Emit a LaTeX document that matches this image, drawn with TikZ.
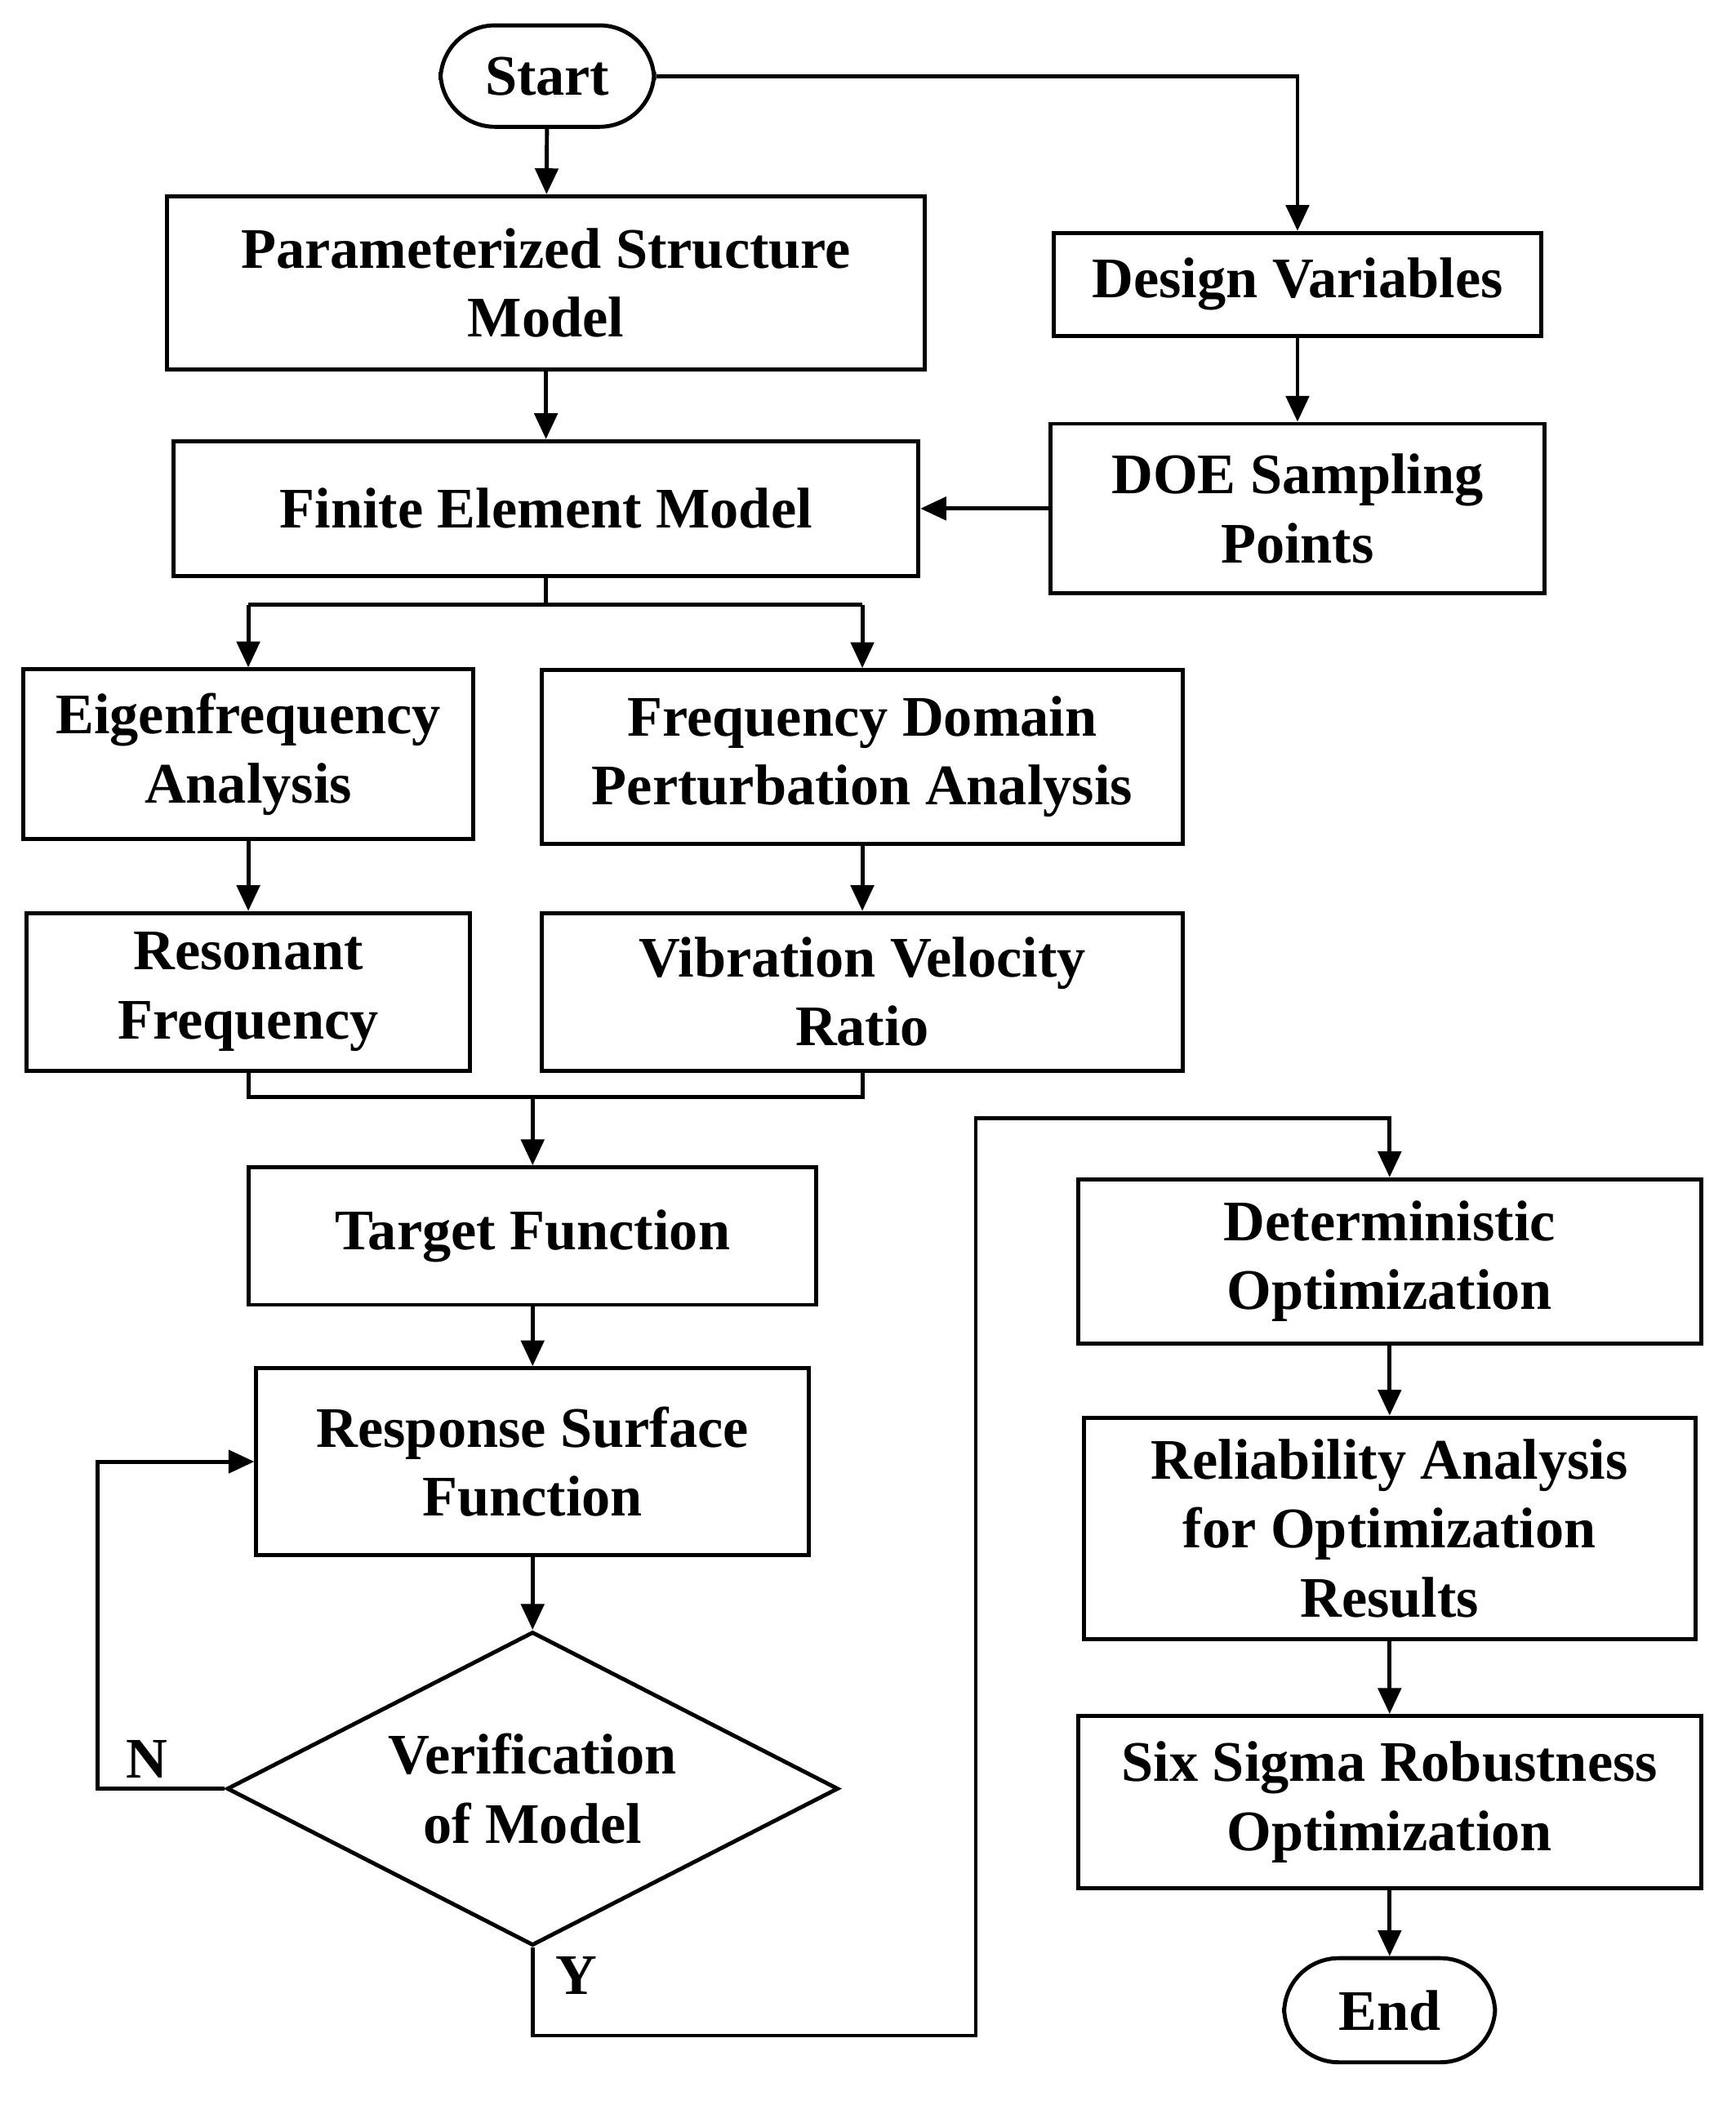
\documentclass[tikz,border=0pt]{standalone}
\usepackage{fontspec}
\setmainfont{Liberation Serif}
\usetikzlibrary{shapes.geometric,arrows.meta}
\begin{document}
\begin{tikzpicture}[x=0.016346cm,y=-0.016346cm,
  every node/.style={font=\fontsize{20}{24}\selectfont\bfseries, align=center, inner sep=0pt},
  box/.style={draw, line width=1.4pt, rectangle},
  ln/.style={line width=1.4pt},
  ar/.style={ln,-{Triangle[length=9pt,width=8pt]}}]
\useasboundingbox (0,0) rectangle (1300,1577);
\node[box, rounded corners=19pt, minimum width=160*0.016346cm, minimum height=76*0.016346cm] (start) at (410,57) {Start};
\node[box, minimum width=568*0.016346cm, minimum height=130*0.016346cm] (param) at (409,212) {Parameterized Structure\\Model};
\node[box, minimum width=365*0.016346cm, minimum height=77*0.016346cm] (dv) at (972,213) {Design Variables};
\node[box, minimum width=370*0.016346cm, minimum height=127*0.016346cm] (doe) at (972,381) {DOE Sampling\\Points};
\node[box, minimum width=558*0.016346cm, minimum height=101*0.016346cm] (fem) at (409,381) {Finite Element Model};
\node[box, minimum width=337*0.016346cm, minimum height=127*0.016346cm] (eig) at (186,565) {Eigenfrequency\\Analysis};
\node[box, minimum width=480*0.016346cm, minimum height=130*0.016346cm] (fd) at (646,567) {Frequency Domain\\Perturbation Analysis};
\node[box, minimum width=332*0.016346cm, minimum height=118*0.016346cm] (res) at (186,743) {Resonant\\Frequency};
\node[box, minimum width=480*0.016346cm, minimum height=118*0.016346cm] (vib) at (646,743) {Vibration Velocity\\Ratio};
\node[box, minimum width=425*0.016346cm, minimum height=103*0.016346cm] (tf) at (399,926) {Target Function};
\node[box, minimum width=414*0.016346cm, minimum height=140*0.016346cm] (rsf) at (399,1095) {Response Surface\\Function};
\node[draw, line width=1.4pt, diamond, aspect=1.96, minimum width=458*0.016346cm, minimum height=235*0.016346cm] (ver) at (399,1340) {Verification\\of Model};
\node[box, minimum width=467*0.016346cm, minimum height=123*0.016346cm] (det) at (1041,945) {Deterministic\\Optimization};
\node[box, minimum width=458*0.016346cm, minimum height=166*0.016346cm] (rel) at (1041,1145) {Reliability Analysis\\for Optimization\\Results};
\node[box, minimum width=467*0.016346cm, minimum height=129*0.016346cm] (six) at (1041,1350) {Six Sigma Robustness\\Optimization};
\node[box, rounded corners=19pt, minimum width=158*0.016346cm, minimum height=78*0.016346cm] (end) at (1041,1506) {End};
\node (N) at (110,1318) {N};
\node (Y) at (432,1480) {Y};
\coordinate (c1) at (972,57);
\coordinate (f1) at (409,453);
\coordinate (f2) at (186,453);
\coordinate (f3) at (646,453);
\coordinate (m1) at (186,822);
\coordinate (m2) at (646,822);
\coordinate (m3) at (399,822);
\coordinate (n1) at (73,1340);
\coordinate (n2) at (73,1095);
\coordinate (y1) at (399,1525);
\coordinate (y2) at (731,1525);
\coordinate (y3) at (731,838);
\coordinate (y4) at (1041,838);
\draw[ar] (start) -- (param);
\draw[ar] (start.east) -- (c1) -- (dv.north);
\draw[ar] (dv) -- (doe);
\draw[ar] (doe.west) -- (fem.east);
\draw[ar] (param) -- (fem);
\draw[ln] (fem.south) -- (f1);
\draw[ar] (f2) -- (eig.north);
\draw[ar] (f3) -- (fd.north);
\draw[ln] (f2) -- (f3);
\draw[ar] (eig) -- (res);
\draw[ar] (fd) -- (vib);
\draw[ln] (res.south) -- (m1) -- (m2) -- (vib.south);
\draw[ar] (m3) -- (tf.north);
\draw[ar] (tf) -- (rsf);
\draw[ar] (rsf) -- (ver.north);
\draw[ar] (ver.west) -- (n1) -- (n2) -- (rsf.west);
\draw[ar] (ver.south) -- (y1) -- (y2) -- (y3) -- (y4) -- (det.north);
\draw[ar] (det) -- (rel);
\draw[ar] (rel) -- (six);
\draw[ar] (six) -- (end);
\end{tikzpicture}
\end{document}
